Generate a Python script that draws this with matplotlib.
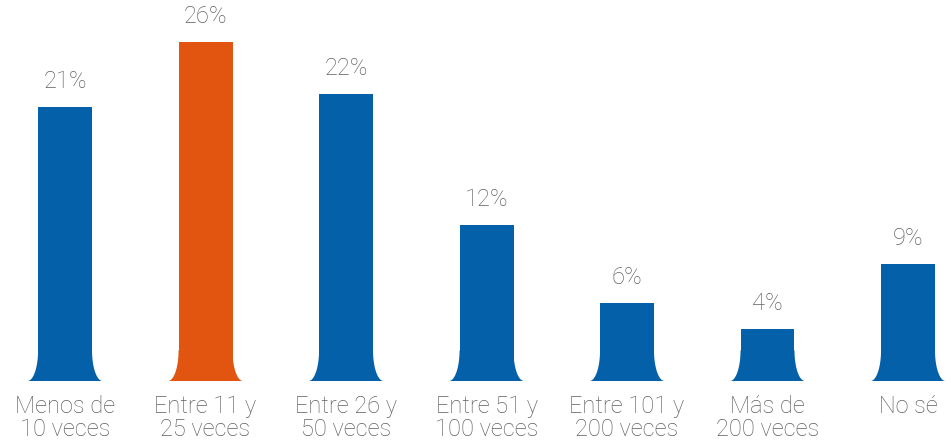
import numpy as np
import matplotlib
matplotlib.use("Agg")
import matplotlib.pyplot as plt
from matplotlib.patches import Polygon

# Frequency categories and share of respondents (%)
categories = ["Menos de\n10 veces", "Entre 11 y\n25 veces", "Entre 26 y\n50 veces",
              "Entre 51 y\n100 veces", "Entre 101 y\n200 veces", "Más de\n200 veces", "No sé"]
values = [21, 26, 22, 12, 6, 4, 9]
highlight = 1

BLUE = "#0560AA"
ORANGE = "#E15510"
GREY = "#5f5f5f"

plt.rcParams["font.family"] = ["Roboto", "DejaVu Sans"]

fig = plt.figure(figsize=(9.51, 4.43), dpi=100)
ax = fig.add_axes([0, 0, 1, 1])
ax.set_xlim(-0.463, 6.306)
ax.set_ylim(-4.755, 29.22)
ax.axis("off")

x = np.arange(len(values))
colors = [ORANGE if i == highlight else BLUE for i in range(len(values))]
bars = ax.bar(x, values, width=0.384, color=colors, linewidth=0)

# Flared foot at the base of each bar (concave fillet on both sides)
flare_w = 0.075
flare_h = 2.35
t = np.linspace(0, np.pi / 2, 30)
for b, c in zip(bars, colors):
    left = b.get_x()
    right = left + b.get_width()
    base = b.get_y()
    lx = left - flare_w + flare_w * np.cos(t)
    ly = base + flare_h - flare_h * np.sin(t)
    rx = right + flare_w - flare_w * np.cos(t)
    ry = ly
    pts = np.concatenate([
        np.column_stack([lx, ly]),
        np.column_stack([rx[::-1], ry[::-1]]),
    ])
    ax.add_patch(Polygon(pts, closed=True, facecolor=c, edgecolor="none"))

# Value labels above bars
for b, v in zip(bars, values):
    ax.annotate(f"{v}%", (b.get_x() + b.get_width() / 2, b.get_height()),
                xytext=(0, 10), textcoords="offset points",
                ha="center", va="bottom", fontsize=17, color=GREY,
                fontweight="light")

# Category labels under bars
for xi, lab in zip(x, categories):
    ax.annotate(lab, (xi, 0), xytext=(0, -10), textcoords="offset points",
                ha="center", va="top", fontsize=17, color=GREY,
                fontweight="light", linespacing=1.0)

fig.savefig("out.png", dpi=100)
